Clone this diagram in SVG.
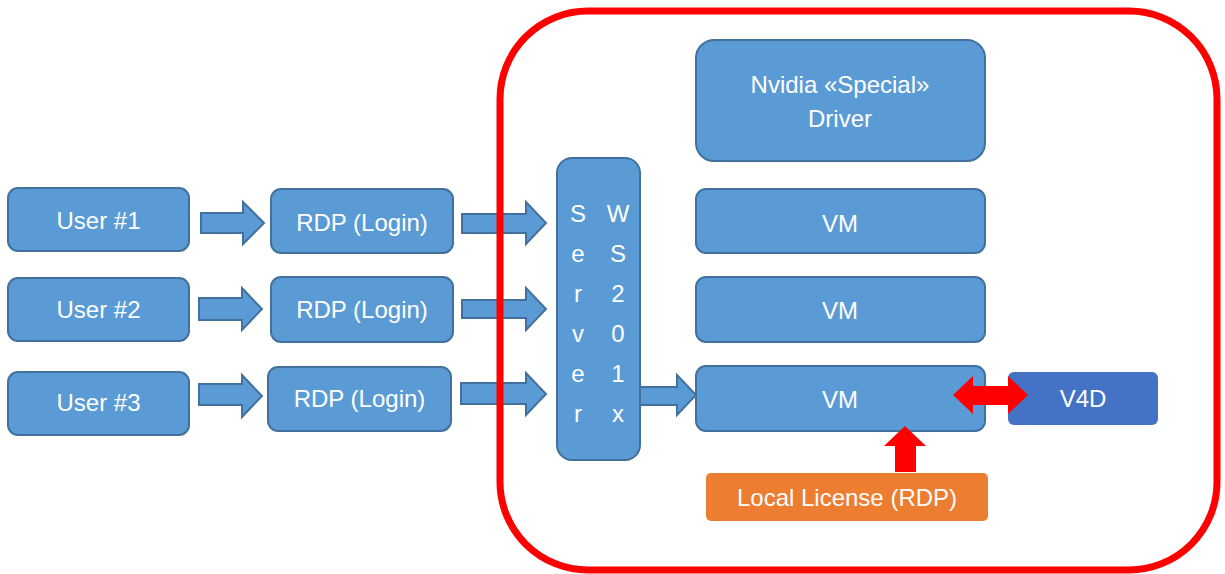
<svg xmlns="http://www.w3.org/2000/svg" width="1225" height="574" viewBox="0 0 1225 574">
<style>
.box{fill:#5B9BD5;stroke:#41719C;stroke-width:2}
.blk{fill:#5B9BD5;stroke:#41719C;stroke-width:2;stroke-linejoin:miter}
.red{fill:#FF0000;stroke:none}
.t{font-family:"Liberation Sans",Arial,sans-serif;font-size:24px;fill:#FFFFFF;text-anchor:middle}
</style>
<rect width="1225" height="574" fill="#FFFFFF"/>
<g id="connectors">
<path class="blk" d="M201 213 H243 V202 L264 223 L243 244 V233 H201 Z"/>
<path class="blk" d="M199 298 H242 V288 L262 309 L242 330 V320 H199 Z"/>
<path class="blk" d="M199 384 H242 V375 L262 396 L242 417 V405 H199 Z"/>
<path class="blk" d="M462 214 H526 V202 L546 223 L526 244 V233 H462 Z"/>
<path class="blk" d="M462 300 H526 V288 L546 309 L526 330 V318 H462 Z"/>
<path class="blk" d="M461 383 H526 V373 L546 394 L526 415 V404 H461 Z"/>
<path class="blk" d="M640 387 H677 V375 L696 395 L677 415 V405 H640 Z"/>
</g>
<g id="container">
<rect x="500" y="11" width="717" height="559" rx="88" ry="88" fill="none" stroke="#FF0000" stroke-width="7"/>
</g>
<g id="user1"><rect class="box" x="8" y="188" width="181" height="63" rx="10"/><text class="t" x="98.5" y="229">User #1</text></g>
<g id="user2"><rect class="box" x="8" y="278" width="181" height="63" rx="10"/><text class="t" x="98.5" y="318">User #2</text></g>
<g id="user3"><rect class="box" x="8" y="372" width="181" height="63" rx="10"/><text class="t" x="98.5" y="411">User #3</text></g>
<g id="rdp1"><rect class="box" x="271" y="189" width="182" height="64" rx="10"/><text class="t" x="362" y="231">RDP (Login)</text></g>
<g id="rdp2"><rect class="box" x="271" y="277" width="182" height="65" rx="10"/><text class="t" x="362" y="318">RDP (Login)</text></g>
<g id="rdp3"><rect class="box" x="268" y="367" width="183" height="64" rx="10"/><text class="t" x="359.5" y="407">RDP (Login)</text></g>
<g id="server"><rect class="box" x="557" y="158" width="83" height="302" rx="15"/>
<text class="t" x="578" y="222">S</text><text class="t" x="578" y="262">e</text><text class="t" x="578" y="302">r</text><text class="t" x="578" y="342">v</text><text class="t" x="578" y="382">e</text><text class="t" x="578" y="422">r</text>
<text class="t" x="618" y="222">W</text><text class="t" x="618" y="262">S</text><text class="t" x="618" y="302">2</text><text class="t" x="618" y="342">0</text><text class="t" x="618" y="382">1</text><text class="t" x="618" y="422">x</text>
</g>
<g id="nvidia"><rect class="box" x="696" y="40" width="289" height="121" rx="18"/><text class="t" x="840" y="93">Nvidia «Special»</text><text class="t" x="840" y="127">Driver</text></g>
<g id="vm1"><rect class="box" x="696" y="189" width="289" height="64" rx="10"/><text class="t" x="840" y="232">VM</text></g>
<g id="vm2"><rect class="box" x="696" y="277" width="289" height="65" rx="10"/><text class="t" x="840" y="319">VM</text></g>
<g id="vm3"><rect class="box" x="696" y="366" width="289" height="65" rx="10"/><text class="t" x="840" y="408">VM</text></g>
<g id="v4d"><rect x="1008" y="372" width="150" height="53" rx="6" fill="#4472C4"/><text class="t" x="1083" y="407">V4D</text></g>
<g id="license"><rect x="706" y="473" width="282" height="48" rx="5" fill="#ED7D31"/><text class="t" x="847" y="506">Local License (RDP)</text></g>
<g id="red-arrows">
<path class="red" d="M953 395 L973 376 V386 H1008 V376 L1028 395 L1008 414 V405 H973 V414 Z"/>
<path class="red" d="M905 426 L926 446 H916 V472 H895 V446 H884 Z"/>
</g>
</svg>
